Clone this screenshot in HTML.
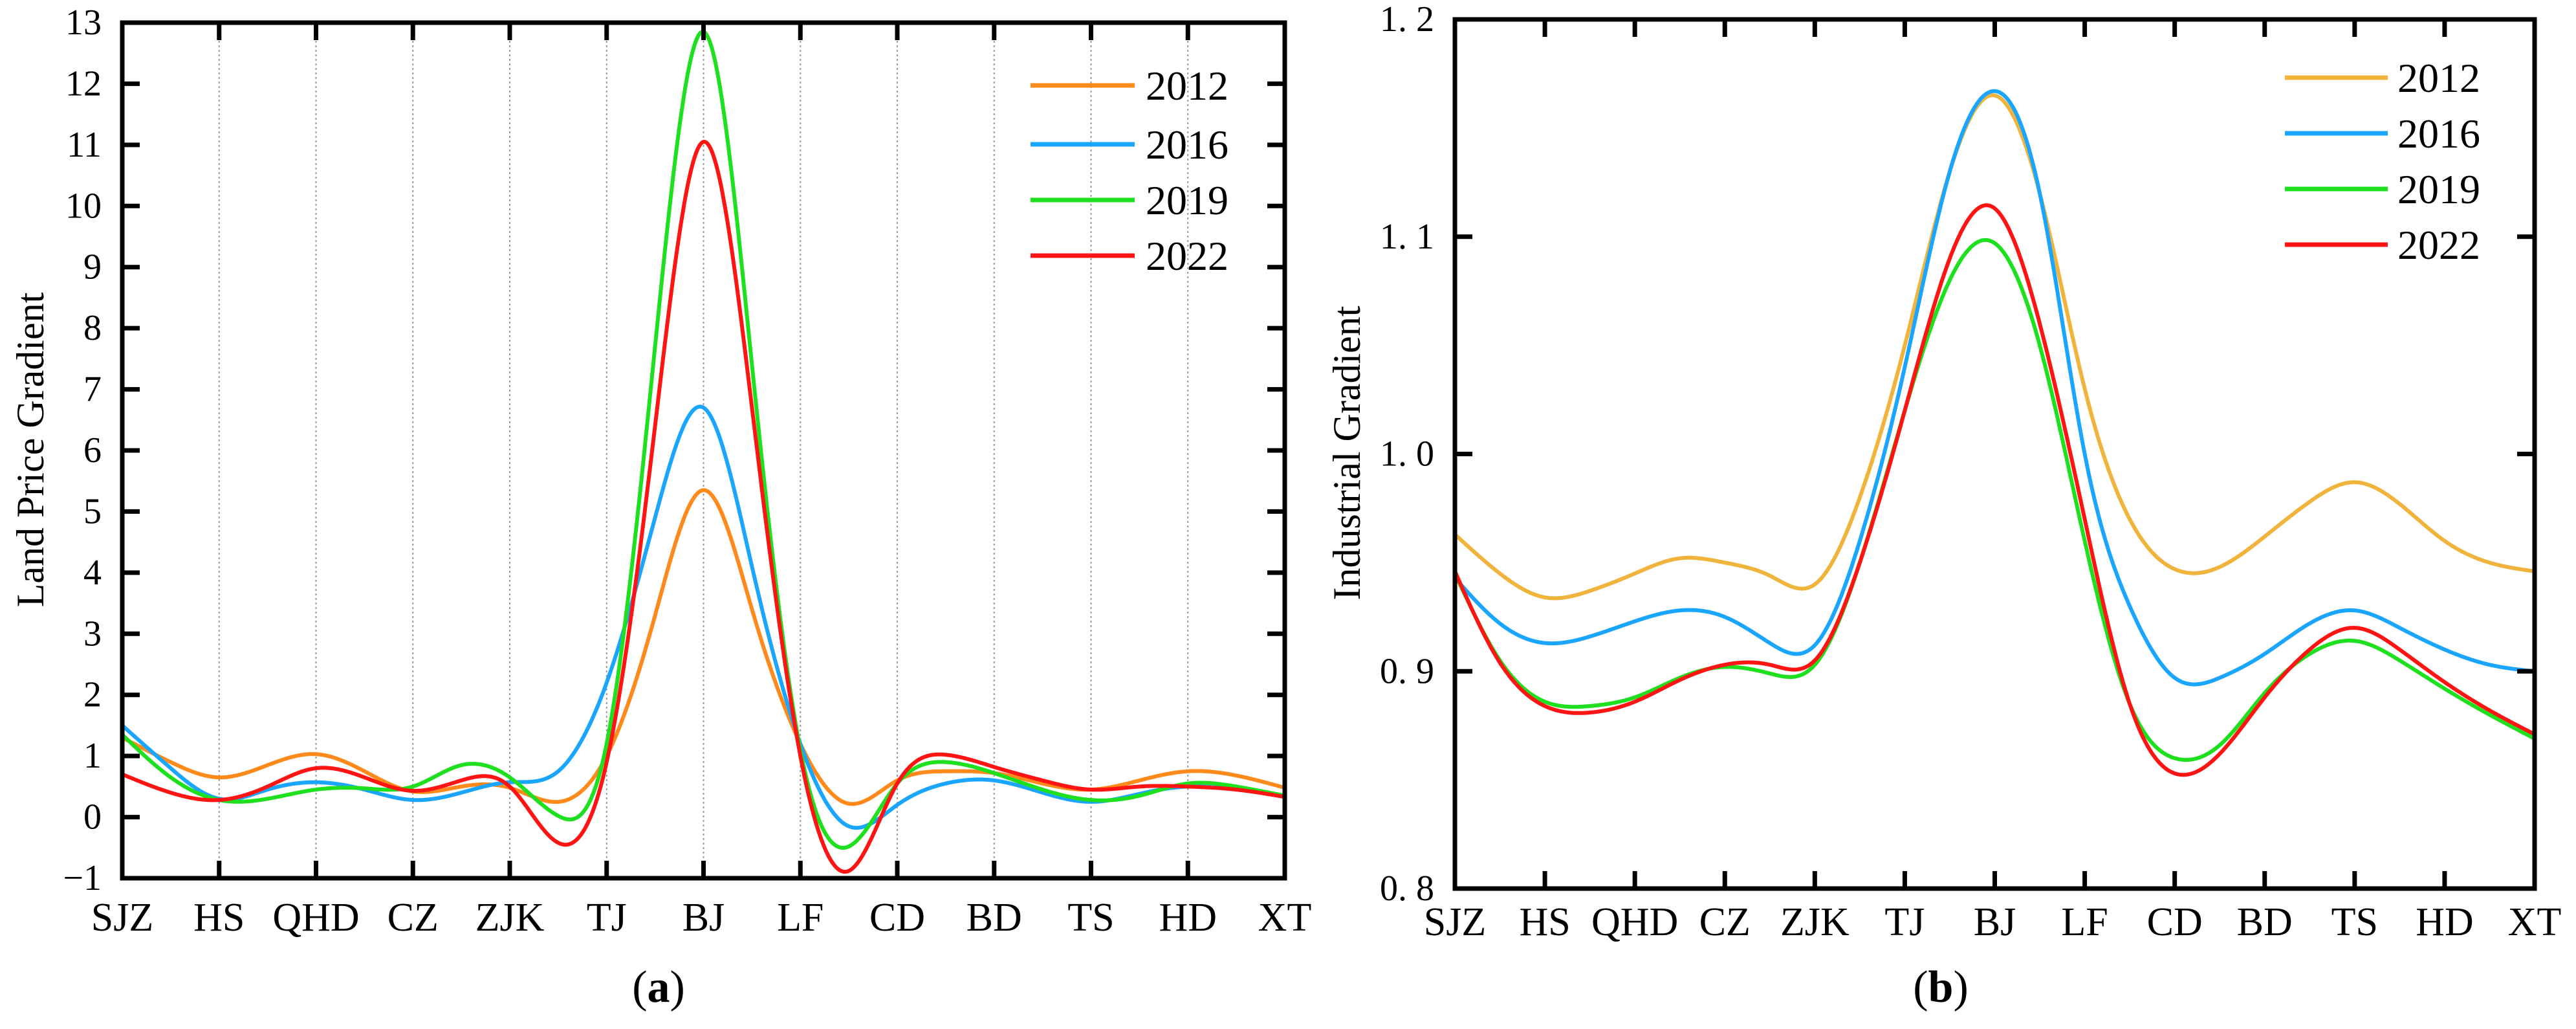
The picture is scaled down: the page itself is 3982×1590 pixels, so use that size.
<!DOCTYPE html>
<html><head><meta charset="utf-8"><style>
html,body{margin:0;padding:0;background:#fff;width:3982px;height:1590px;overflow:hidden}
svg{display:block;font-family:"Liberation Serif",serif}
</style></head><body>
<svg id="fig" width="3982" height="1590" viewBox="0 0 3982 1590" xmlns="http://www.w3.org/2000/svg">
<g id="ca"></g>
<g id="cb"></g>
</svg>
<script>
const cities = ["SJZ","HS","QHD","CZ","ZJK","TJ","BJ","LF","CD","BD","TS","HD","XT"];
const years = ["2012","2016","2019","2022"];
// values sampled at cities and midpoints between them (25 points)
const land2012 = [1.3,0.9,0.65,0.85,1.03,0.75,0.42,0.5,0.48,0.25,1.0,3.3,5.35,3.4,1.2,0.22,0.6,0.75,0.72,0.55,0.45,0.6,0.75,0.68,0.48];
const land2016 = [1.5,0.8,0.3,0.45,0.57,0.45,0.28,0.4,0.57,0.75,2.2,4.9,6.7,4.1,1.2,-0.15,0.2,0.55,0.6,0.4,0.25,0.38,0.5,0.45,0.35];
const land2019 = [1.35,0.65,0.28,0.3,0.45,0.47,0.5,0.85,0.65,0.02,1.2,7.7,12.85,7.4,1.1,-0.48,0.55,0.9,0.72,0.45,0.28,0.35,0.55,0.5,0.35];
const land2022 = [0.7,0.4,0.28,0.5,0.8,0.65,0.43,0.6,0.5,-0.42,0.9,6.4,11.05,6.7,1.0,-0.88,0.55,1.02,0.82,0.6,0.45,0.5,0.5,0.45,0.33];
const ind2012 = [0.963,0.945,0.934,0.937,0.945,0.952,0.950,0.944,0.940,0.98,1.05,1.13,1.165,1.12,1.03,0.97,0.947,0.948,0.962,0.978,0.987,0.977,0.96,0.95,0.946];
const ind2016 = [0.943,0.922,0.913,0.916,0.923,0.928,0.925,0.913,0.912,0.96,1.04,1.13,1.167,1.12,1.0,0.93,0.897,0.897,0.908,0.922,0.928,0.92,0.91,0.903,0.9];
const ind2019 = [0.945,0.905,0.886,0.884,0.888,0.897,0.902,0.899,0.903,0.95,1.02,1.08,1.097,1.05,0.96,0.885,0.86,0.866,0.89,0.908,0.914,0.905,0.892,0.88,0.869];
const ind2022 = [0.946,0.904,0.884,0.881,0.886,0.896,0.903,0.903,0.905,0.95,1.02,1.09,1.113,1.06,0.97,0.885,0.853,0.862,0.888,0.91,0.92,0.91,0.895,0.882,0.871];
const landTicks = [-1,0,1,2,3,4,5,6,7,8,9,10,11,12,13];
const landTickLabels = ["\u22121","0","1","2","3","4","5","6","7","8","9","10","11","12","13"];
const indTicks = [0.8,0.9,1.0,1.1,1.2];
const indTickLabels = ["0. 8","0. 9","1. 0","1. 1","1. 2"];

const NS="http://www.w3.org/2000/svg";
function mk(parent,tag,attrs,text){const e=document.createElementNS(NS,tag);for(const k in attrs)e.setAttribute(k,attrs[k]);if(text!==undefined)e.textContent=text;parent.appendChild(e);return e;}

function spline(xs,ys){
  const n=xs.length,h=[],a=[],l=[1],mu=[0],z=[0],c=new Array(n).fill(0),b=[],d=[];
  for(let i=0;i<n-1;i++)h.push(xs[i+1]-xs[i]);
  for(let i=1;i<n-1;i++)a[i]=3/h[i]*(ys[i+1]-ys[i])-3/h[i-1]*(ys[i]-ys[i-1]);
  for(let i=1;i<n-1;i++){l[i]=2*(xs[i+1]-xs[i-1])-h[i-1]*mu[i-1];mu[i]=h[i]/l[i];z[i]=(a[i]-h[i-1]*z[i-1])/l[i];}
  for(let j=n-2;j>=0;j--){c[j]=(j>0?z[j]:0)-mu[j]*c[j+1];b[j]=(ys[j+1]-ys[j])/h[j]-h[j]*(c[j+1]+2*c[j])/3;d[j]=(c[j+1]-c[j])/(3*h[j]);}
  return t=>{let j=Math.min(n-2,Math.max(0,Math.floor(t)));const dx=t-xs[j];return ys[j]+b[j]*dx+c[j]*dx*dx+d[j]*dx*dx*dx;};
}

function chart(g,cfg){
  const {L,R,T,B,ymin,ymax,ticks,tickLabels,series,colors,grid,title,titleX,titleY,legX1,legX2,legTX,legY,labelRight,letter,letterX,xLabY,tag}=cfg;
  const xs=i=>L+(R-L)*i/(cities.length-1);
  const ys=v=>B-(v-ymin)/(ymax-ymin)*(B-T);
  if(grid){cities.forEach((c,i)=>{if(i>0&&i<cities.length-1){const ln=mk(g,'line',{x1:xs(i),x2:xs(i),y1:T,y2:B,stroke:'#999','stroke-width':2,'stroke-dasharray':'3,4'});
    
    }});}
  series.forEach((s,k)=>{
    const tx=s.map((_,i)=>i),f=spline(tx,s);let d='';
    for(let t=0;t<=s.length-1+1e-9;t+=0.02){const px=L+(R-L)*t/(s.length-1);d+=(d?'L':'M')+px.toFixed(1)+','+ys(f(t)).toFixed(1);}
    const p=mk(g,'path',{d:d,fill:'none',stroke:colors[k],'stroke-width':6,'stroke-linejoin':'round'});
    
    
  });
  const fr=mk(g,'rect',{x:L,y:T,width:R-L,height:B-T,fill:'none',stroke:'#000','stroke-width':7});
  
  
  ticks.forEach((v,i)=>{
    const y=ys(v);
    if(i>0&&i<ticks.length-1){mk(g,'line',{x1:L,x2:L+27,y1:y,y2:y,stroke:'#000','stroke-width':7});mk(g,'line',{x1:R,x2:R-27,y1:y,y2:y,stroke:'#000','stroke-width':7});}
    const t=mk(g,'text',{x:labelRight,y:y+18,'text-anchor':'end','font-size':56},tickLabels[i]);
    
    
  });
  cities.forEach((c,i)=>{
    const x=xs(i);
    if(i>0&&i<cities.length-1){mk(g,'line',{x1:x,x2:x,y1:B,y2:B-27,stroke:'#000','stroke-width':7});mk(g,'line',{x1:x,x2:x,y1:T,y2:T+27,stroke:'#000','stroke-width':7});}
    const t=mk(g,'text',{x:x,y:xLabY,'text-anchor':'middle','font-size':62},c);
    
    
  });
  const tt=mk(g,'text',{x:titleX,y:titleY,'text-anchor':'middle','font-size':60,transform:'rotate(-90 '+titleX+' '+titleY+')','dominant-baseline':'central'},title);
  
  
  years.forEach((yr,k)=>{
    const le=mk(g,'g',{});
    
    
    mk(le,'line',{x1:legX1,x2:legX2,y1:legY[k],y2:legY[k],stroke:colors[k],'stroke-width':7});
    mk(le,'text',{x:legTX,y:legY[k]+22,'font-size':64},yr);
  });
  const lt=mk(g,'text',{x:letterX,y:1548,'text-anchor':'middle','font-size':70},'');
  lt.innerHTML='(<tspan font-weight="bold">'+letter+'</tspan>)';
  
  
}

chart(document.getElementById('ca'),{L:189,R:1986,T:35,B:1357,ymin:-1,ymax:13,ticks:landTicks,tickLabels:landTickLabels,
 series:[land2012,land2016,land2019,land2022],colors:['#ff8a1c','#1aa6ff','#1ee01e','#ff1414'],grid:true,
 title:'Land Price Gradient',titleX:47,titleY:695,legX1:1593,legX2:1754,legTX:1771,legY:[132,223,309,395],labelRight:157,letter:'a',letterX:1018,xLabY:1438,tag:'land'});
chart(document.getElementById('cb'),{L:2249,R:3918,T:30,B:1373,ymin:0.8,ymax:1.2,ticks:indTicks,tickLabels:indTickLabels,
 series:[ind2012,ind2016,ind2019,ind2022],colors:['#f0b43c','#1aa6ff','#1ee01e','#ff1414'],grid:false,
 title:'Industrial Gradient',titleX:2082,titleY:700,legX1:3532,legX2:3691,legTX:3706,legY:[120,206,292,378],labelRight:2217,letter:'b',letterX:3000,xLabY:1445,tag:'industrial'});
</script>
</body></html>
